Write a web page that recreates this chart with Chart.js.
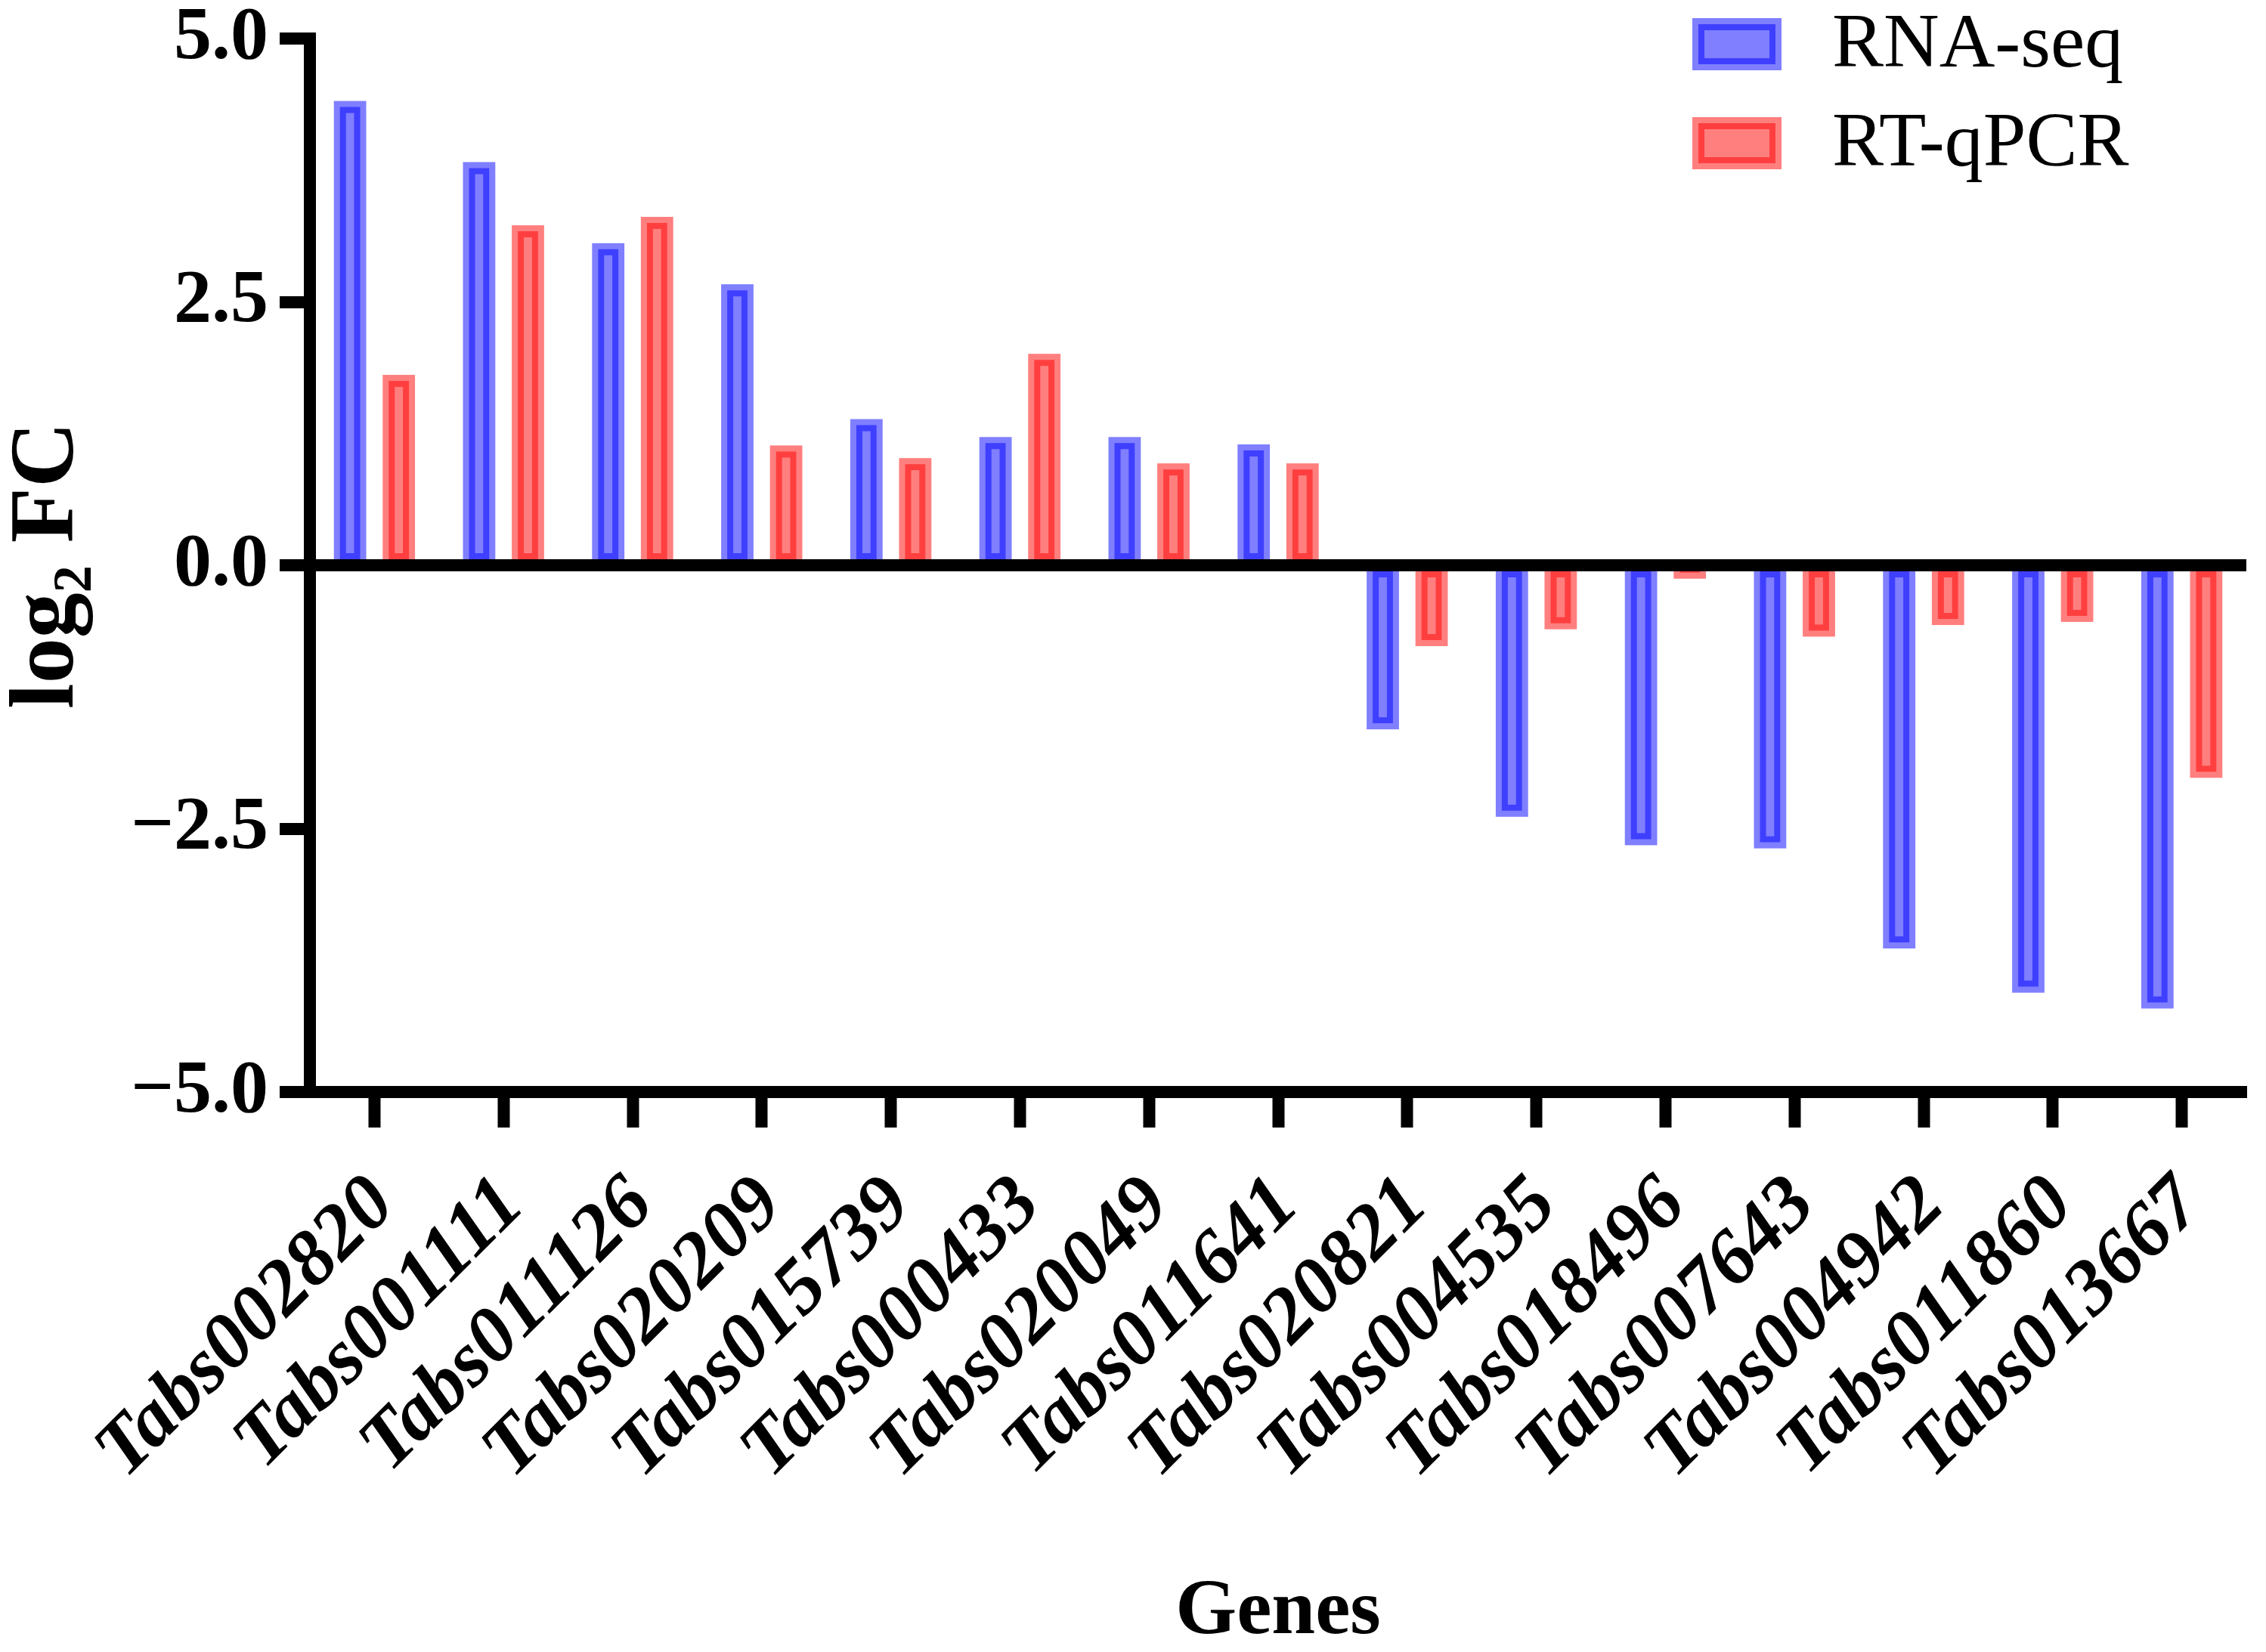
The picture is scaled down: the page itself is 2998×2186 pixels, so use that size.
<!DOCTYPE html>
<html>
<head>
<meta charset="utf-8">
<script src="https://cdn.jsdelivr.net/npm/chart.js@4.4.1/dist/chart.umd.min.js"></script>
<style>
  html, body { margin: 0; padding: 0; background: #ffffff; }
  #wrap { width: 2998px; height: 2186px; position: relative; }
  canvas { display: block; }
</style>
</head>
<body>
<div id="wrap"><canvas id="c"></canvas></div>
<script>
// ---- data ----
const categories = ['Tabs002820','Tabs001111','Tabs011126','Tabs020209','Tabs015739','Tabs000433','Tabs020049','Tabs011641','Tabs020821','Tabs004535','Tabs018496','Tabs007643','Tabs004942','Tabs011860','Tabs013667'];
const rnaSeq = [4.35, 3.77, 3.00, 2.61, 1.33, 1.16, 1.16, 1.09, -1.50, -2.33, -2.60, -2.63, -3.58, -4.00, -4.15];
const rtqPCR = [1.75, 3.17, 3.25, 1.08, 0.96, 1.95, 0.91, 0.91, -0.71, -0.55, -0.07, -0.62, -0.51, -0.48, -1.96];
const seriesNames = ['RNA-seq', 'RT-qPCR'];
const yTickLabels = ['\u22125.0', '\u22122.5', '0.0', '2.5', '5.0'];

// ---- style ----
const SERIF = "'Liberation Serif', 'Times New Roman', serif";
const BLUE = 'rgba(0,0,255,0.5)';
const RED = 'rgba(255,0,0,0.5)';
const EDGE = 16;

// translucent outline stroked over each bar, centred on the bar edge
const barOutline = {
  id: 'barOutline',
  afterDatasetsDraw(chart) {
    const ctx = chart.ctx;
    chart.data.datasets.forEach((ds, i) => {
      const meta = chart.getDatasetMeta(i);
      if (meta.hidden) return;
      ctx.save();
      ctx.strokeStyle = ds.borderColor;
      ctx.lineWidth = EDGE;
      ctx.lineJoin = 'miter';
      meta.data.forEach(el => {
        const p = el.getProps(['x', 'y', 'base', 'width'], true);
        const top = Math.min(p.y, p.base);
        const h = Math.abs(p.base - p.y);
        ctx.strokeRect(p.x - p.width / 2, top, p.width, h);
      });
      ctx.restore();
    });
  }
};

// stacked legend in the top-right corner
const boxLegend = {
  id: 'boxLegend',
  afterDraw(chart) {
    const ctx = chart.ctx;
    ctx.save();
    chart.data.datasets.forEach((ds, i) => {
      const y = 32 + i * 131;
      ctx.beginPath();
      ctx.rect(2247, y, 102, 53);
      ctx.fillStyle = ds.backgroundColor;
      ctx.fill();
      ctx.lineWidth = EDGE;
      ctx.strokeStyle = ds.borderColor;
      ctx.stroke();
      ctx.fillStyle = '#000';
      ctx.font = '102px ' + SERIF;
      ctx.textAlign = 'left';
      ctx.textBaseline = 'alphabetic';
      ctx.fillText(ds.label, 2424, 88 + i * 131);
    });
    ctx.restore();
  }
};

Chart.defaults.color = '#000';

new Chart(document.getElementById('c'), {
  type: 'bar',
  data: {
    labels: categories,
    datasets: [
      { label: seriesNames[0], data: rnaSeq, backgroundColor: BLUE, borderColor: BLUE, borderWidth: 0 },
      { label: seriesNames[1], data: rtqPCR, backgroundColor: RED, borderColor: RED, borderWidth: 0 }
    ]
  },
  options: {
    responsive: true,
    maintainAspectRatio: false,
    animation: false,
    devicePixelRatio: 1,
    datasets: { bar: { categoryPercentage: 0.756, barPercentage: 0.415 } },
    layout: { padding: { top: 51, right: 26, bottom: 0, left: 0 } },
    plugins: { legend: { display: false }, tooltip: { enabled: false } },
    scales: {
      x: {
        offset: true,
        grid: {
          display: true, offset: false, drawOnChartArea: false, drawTicks: true,
          tickLength: 47, tickWidth: 16, tickColor: '#000', lineWidth: 1, color: 'rgba(0,0,0,0)'
        },
        border: { display: true, color: '#000', width: 16, z: 1 },
        ticks: {
          autoSkip: false, minRotation: 45, maxRotation: 45, padding: 42, labelOffset: 12,
          color: '#000', font: { family: SERIF, size: 104, weight: 'bold', style: 'italic', lineHeight: 1.2 }
        },
        title: {
          display: true, text: 'Genes', color: '#000', padding: 0,
          font: { family: SERIF, size: 104, weight: 'bold', lineHeight: 1.0 }
        },
        afterFit(s) { s.height = 741; s.paddingLeft = 0; s.paddingRight = 0; }
      },
      y: {
        min: -5, max: 5,
        ticks: {
          stepSize: 2.5, padding: 15, color: '#000',
          font: { family: SERIF, size: 100, weight: 'bold' },
          callback: (v, i) => yTickLabels[i]
        },
        grid: {
          display: true, drawOnChartArea: true, drawTicks: true,
          tickLength: 40, tickWidth: 16, tickColor: '#000', lineWidth: 16,
          color: c => (c.tick && c.tick.value === 0) ? '#000' : 'rgba(0,0,0,0)',
          z: 1
        },
        border: { display: true, color: '#000', width: 16, z: 1 },
        title: {
          display: true, text: 'log\u2082 FC', color: '#000', padding: 0,
          font: { family: SERIF, size: 120, weight: 'bold', lineHeight: 1.075 }
        },
        afterFit(s) { s.width = 410; s.paddingTop = 0; s.paddingBottom = 0; }
      }
    }
  },
  plugins: [barOutline, boxLegend]
});
</script>
</body>
</html>
